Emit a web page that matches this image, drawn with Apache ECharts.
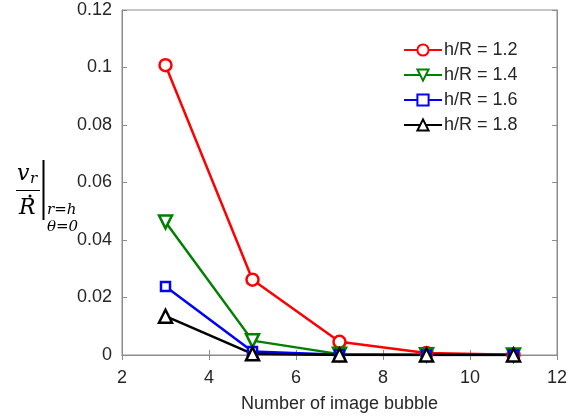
<!DOCTYPE html>
<html><head><meta charset="utf-8">
<script src="https://cdn.jsdelivr.net/npm/echarts@6/dist/echarts.min.js"></script>
<style>html,body{margin:0;padding:0;background:#fff}#c{width:582px;height:419px}</style>
</head><body><div id="c"></div>
<script>
const xValues = [3, 5, 7, 9, 11];
const seriesNames = ['h/R = 1.2', 'h/R = 1.4', 'h/R = 1.6', 'h/R = 1.8'];
const r12 = [0.1008, 0.0262, 0.0046, 0.0007, 0.0001];
const r14 = [0.0463, 0.0050, 0.0003, 0.0001, 0.0000];
const r16 = [0.0238, 0.0012, 0.0001, 0.0000, 0.0000];
const r18 = [0.0135, 0.0004, 0.0000, 0.0000, 0.0000];
const xTicks = [2, 4, 6, 8, 10, 12];
const yTicks = [0, 0.02, 0.04, 0.06, 0.08, 0.1, 0.12];

const chart = echarts.init(document.getElementById('c'));
const font = 'Liberation Sans, Arial, sans-serif';
const axisCol = '#8c8c8c';
const textCol = '#262626';
function mk(name, data, color, symbol, size){
  return {
    name, type:'line', data: xValues.map((x,i)=>[x,data[i]]),
    symbol, symbolSize:size,
    lineStyle:{color, width:2.5},
    itemStyle:{color:'#fff', borderColor:color, borderWidth:2.5},
    emphasis:{disabled:true}
  };
}
const tri = 'path://M5,0 L10,9 L0,9 Z';
const triDown = 'path://M0,0 L10,0 L5,9 Z';
chart.setOption({
  animation:false,
  grid:{left:122, right:25, top:10, bottom:64, show:true, borderColor:axisCol, borderWidth:1},
  legend:{
    data: seriesNames, orient:'vertical', left:398, top:36, itemGap:7,
    itemWidth:38, itemHeight:14,
    textStyle:{fontFamily:font, fontSize:18, color:textCol, padding:[0,0,0,-3]}
  },
  xAxis:[{
    type:'value', min:2, max:12, interval:2,
    name:'Number of image bubble', nameLocation:'middle', nameGap:40,
    nameTextStyle:{fontFamily:font, fontSize:18, color:textCol},
    axisLine:{lineStyle:{color:axisCol}}, axisTick:{inside:true, length:5, lineStyle:{color:axisCol}},
    axisLabel:{fontFamily:font, fontSize:18, color:textCol, margin:14},
    splitLine:{show:false}
  },{
    type:'value', min:2, max:12, interval:2, position:'top',
    axisLine:{show:true, lineStyle:{color:axisCol}}, axisTick:{inside:true, length:5, lineStyle:{color:axisCol}},
    axisLabel:{show:false}, splitLine:{show:false}
  }],
  yAxis:[{
    type:'value', min:0, max:0.12, interval:0.02,
    axisLine:{show:true, lineStyle:{color:axisCol}}, axisTick:{show:true, inside:true, length:5, lineStyle:{color:axisCol}},
    axisLabel:{fontFamily:font, fontSize:18, color:textCol, margin:10,
      formatter:v=>{const s=+v.toFixed(2); return s===0?'0':String(s);}},
    splitLine:{show:false}
  },{
    type:'value', min:0, max:0.12, interval:0.02, position:'right',
    axisLine:{show:true, lineStyle:{color:axisCol}}, axisTick:{show:true, inside:true, length:5, lineStyle:{color:axisCol}},
    axisLabel:{show:false}, splitLine:{show:false}
  }],
  series:[
    mk(seriesNames[0], r12, '#ff0000', 'circle', 12),
    mk(seriesNames[1], r14, '#008000', triDown, 13),
    mk(seriesNames[2], r16, '#0000ff', 'rect', 9),
    mk(seriesNames[3], r18, '#000000', tri, 13)
  ],
  graphic:[
    {type:'text', left:17, top:163, style:{text:'v', font:'italic 22px "DejaVu Serif", serif', fill:'#000'}},
    {type:'text', left:30, top:172, style:{text:'r', font:'italic 15px "DejaVu Serif", serif', fill:'#000'}},
    {type:'line', shape:{x1:16, y1:190.5, x2:40, y2:190.5}, style:{stroke:'#000', lineWidth:1}},
    {type:'text', left:19, top:197, style:{text:'R', font:'italic 22px "DejaVu Serif", serif', fill:'#000'}},
    {type:'circle', shape:{cx:30, cy:196, r:1.5}, style:{fill:'#000'}},
    {type:'line', shape:{x1:43.5, y1:160, x2:43.5, y2:220}, style:{stroke:'#000', lineWidth:2}},
    {type:'text', left:47, top:203, style:{text:'r=h', font:'italic 15px "DejaVu Serif", serif', fill:'#000'}},
    {type:'text', left:47, top:220, style:{text:'θ=0', font:'italic 15px "DejaVu Serif", serif', fill:'#000'}}
  ]
});
</script></body></html>
